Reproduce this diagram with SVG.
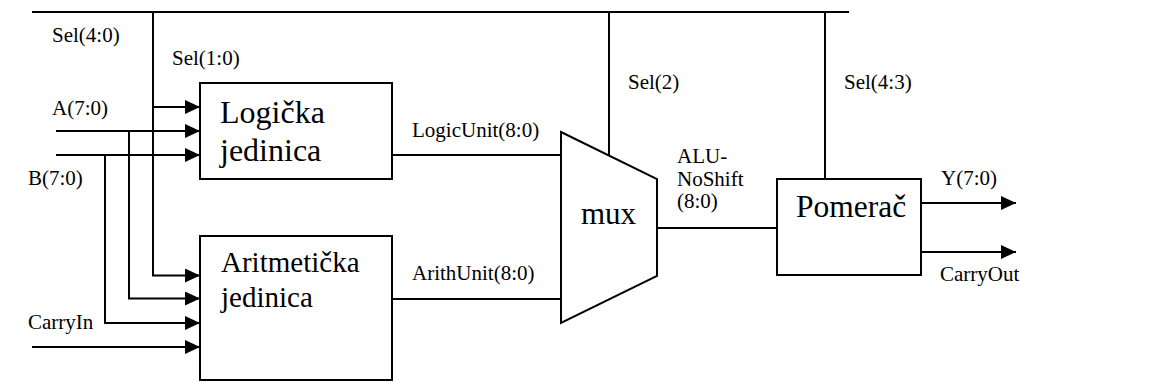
<svg xmlns="http://www.w3.org/2000/svg" width="1149" height="383" viewBox="0 0 1149 383">
  <defs>
    <marker id="arrow" markerUnits="userSpaceOnUse" markerWidth="15" markerHeight="14" refX="15" refY="7" orient="auto">
      <path d="M0,0 L15,7 L0,14 Z" fill="#000"/>
    </marker>
  </defs>
  <style>
    .wire { fill: none; stroke: #000; stroke-width: 2; }
    .arr { marker-end: url(#arrow); }
    .box { fill: #fff; stroke: #000; stroke-width: 2; }
    text { font-family: 'Liberation Serif', 'Times New Roman', serif; fill: #000; }
    .lbl { font-size: 21px; }
    .big { font-size: 32px; }
  </style>
  <rect width="1149" height="383" fill="#fff"/>

  <!-- connectors -->
  <g id="connectors">
    <path class="wire" d="M32,12 H849"/>
    <path class="wire arr" d="M153,12 V275.5 H200"/>
    <path class="wire arr" d="M153,107 H200"/>
    <path class="wire arr" d="M56,131 H200"/>
    <path class="wire arr" d="M129,131 V298.5 H200"/>
    <path class="wire arr" d="M56,155 H200"/>
    <path class="wire arr" d="M105,155 V323 H200"/>
    <path class="wire arr" d="M32,347 H200"/>
    <path class="wire" d="M392,155 H561"/>
    <path class="wire" d="M392,299 H561"/>
    <path class="wire" d="M609,12 V155.5"/>
    <path class="wire" d="M657,228 H777"/>
    <path class="wire" d="M825,12 V179"/>
    <path class="wire arr" d="M921,203 H1016"/>
    <path class="wire arr" d="M921,252 H1016"/>
  </g>

  <!-- signal labels -->
  <g id="labels">
    <text class="lbl" x="52" y="42">Sel(4:0)</text>
    <text class="lbl" x="172" y="65">Sel(1:0)</text>
    <text class="lbl" x="52" y="115">A(7:0)</text>
    <text class="lbl" x="28" y="185">B(7:0)</text>
    <text class="lbl" x="28" y="329">CarryIn</text>
    <text class="lbl" x="412" y="137">LogicUnit(8:0)</text>
    <text class="lbl" x="412" y="280">ArithUnit(8:0)</text>
    <text class="lbl" x="628" y="89">Sel(2)</text>
    <text class="lbl" x="677" y="163">ALU-</text>
    <text class="lbl" x="677" y="186">NoShift</text>
    <text class="lbl" x="677" y="208">(8:0)</text>
    <text class="lbl" x="844" y="89">Sel(4:3)</text>
    <text class="lbl" x="941" y="185">Y(7:0)</text>
    <text class="lbl" x="940" y="281">CarryOut</text>
  </g>

  <!-- logic unit -->
  <g id="logic-unit">
    <rect class="box" x="200" y="83" width="192" height="96"/>
    <text class="big" x="220" y="123">Logička</text>
    <text class="big" x="220" y="161">jedinica</text>
  </g>

  <!-- arithmetic unit -->
  <g id="arith-unit">
    <rect class="box" x="200" y="236" width="192" height="144"/>
    <text class="big" x="221" y="272" style="font-size:29px">Aritmetička</text>
    <text class="big" x="221" y="307" style="font-size:29px">jedinica</text>
  </g>

  <!-- multiplexer -->
  <g id="mux">
    <polygon class="box" points="561,132 657,179 657,276 561,323"/>
    <text class="big" x="581" y="224" style="font-size:31px">mux</text>
  </g>

  <!-- shifter -->
  <g id="shifter">
    <rect class="box" x="777" y="179" width="144" height="96"/>
    <text class="big" x="796" y="217" style="font-size:31.5px">Pomerač</text>
  </g>
</svg>
